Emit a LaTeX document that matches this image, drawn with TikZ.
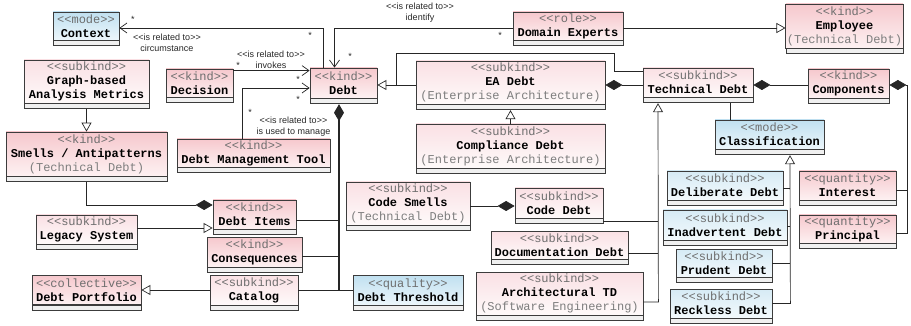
\documentclass[tikz,border=0pt]{standalone}
\usepackage{fontspec}
\setmainfont{Liberation Sans}
\newfontfamily\umlmono{Liberation Mono}
\usepackage{tikz}
\usetikzlibrary{arrows.meta, calc, positioning}

\definecolor{kindtop}{RGB}{246,200,205}
\definecolor{kindbot}{RGB}{253,241,242}
\definecolor{subtop}{RGB}{250,224,228}
\definecolor{subbot}{RGB}{254,250,250}
\definecolor{modetop}{RGB}{192,224,240}
\definecolor{modebot}{RGB}{236,246,251}
\definecolor{ltbtop}{RGB}{214,235,245}
\definecolor{ltbbot}{RGB}{243,249,252}
\definecolor{boxline}{RGB}{60,60,60}
\definecolor{stereo}{RGB}{110,110,110}
\definecolor{extra}{RGB}{125,125,125}
\definecolor{labeltext}{RGB}{40,40,40}

\newcommand{\angled}[1]{<\kern0pt<#1>\kern0pt>}
\newcommand{\stereo}[1]{\textcolor{stereo}{\angled{#1}}}
\newcommand{\aside}[1]{\textcolor{extra}{#1}}

% class = main compartment (name) + empty lower compartment (name-c)
\newcommand{\umlclass}[6]{%
  \node[#2, minimum width=#4pt, minimum height=#5pt] (#1) at (#3) {#6};
  \node[compart, minimum width=#4pt, anchor=north] (#1-c) at (#1.south) {};
}

\tikzset{
  classbox/.style={draw=boxline, line width=0.8pt, inner sep=1pt, align=center,
    font=\umlmono\fontsize{12}{14}\selectfont},
  kindbox/.style={classbox, top color=kindtop, bottom color=kindbot},
  subbox/.style={classbox, top color=subtop, bottom color=subbot},
  modebox/.style={classbox, top color=modetop, bottom color=modebot},
  ltbbox/.style={classbox, top color=ltbtop, bottom color=ltbbot},
  compart/.style={draw=boxline, line width=0.8pt, fill=black!6, minimum height=5pt, inner sep=0pt},
  link/.style={draw=black!85, line width=0.7pt},
  nav/.style={link, -{Straight Barb[length=7pt, width=10pt]}},
  gen/.style={link, -{Triangle[open, length=9pt, width=10pt]}},
  whole/.style={link, {Diamond[length=17pt, width=10pt]}-},
  mult/.style={font=\fontsize{9}{10}\selectfont, text=labeltext, inner sep=0pt},
  rel/.style={font=\fontsize{9}{11}\selectfont, text=labeltext, align=center, inner sep=0pt}
}

\begin{document}
\begin{tikzpicture}[x=1pt, y=-1pt]
    \useasboundingbox (0,0) rectangle (911,326);

    % =================================================================
    % 1. CLASSES
    % =================================================================
    % left column
    \umlclass{context}{modebox}{86,26}{66}{28}{\stereo{mode}\\\textbf{Context}}
    \umlclass{graph}{subbox}{86.5,81.5}{125}{43}{\stereo{subkind}\\\textbf{Graph-based}\\\textbf{Analysis Metrics}}
    \umlclass{smells}{kindbox}{86.5,154}{161}{44}{\stereo{kind}\\\textbf{Smells / Antipatterns}\\\aside{(Technical Debt)}}
    \umlclass{legacy}{subbox}{86.5,229.5}{101}{29}{\stereo{subkind}\\\textbf{Legacy System}}
    \umlclass{portfolio}{kindbox}{86.5,290}{109}{29}{\stereo{collective}\\\textbf{Debt Portfolio}}

    % debt and its parts
    \umlclass{decision}{kindbox}{199.5,83}{67}{28}{\stereo{kind}\\\textbf{Decision}}
    \umlclass{debt}{kindbox}{343.5,83}{67}{30}{\stereo{kind}\\\textbf{Debt}}
    \umlclass{dmt}{kindbox}{253.5,153}{153}{28}{\stereo{kind}\\\textbf{Debt Management Tool}}
    \umlclass{items}{kindbox}{254.5,214.5}{83}{29}{\stereo{kind}\\\textbf{Debt Items}}
    \umlclass{conseq}{kindbox}{254.5,252}{95}{30}{\stereo{kind}\\\textbf{Consequences}}
    \umlclass{catalog}{subbox}{254,290}{88}{30}{\stereo{subkind}\\\textbf{Catalog}}
    \umlclass{threshold}{modebox}{408,290}{110}{30}{\stereo{quality}\\\textbf{Debt Threshold}}

    % centre
    \umlclass{experts}{kindbox}{568,26}{110}{28}{\stereo{role}\\\textbf{Domain Experts}}
    \umlclass{ea}{subbox}{510.5,82.5}{189}{43}{\stereo{subkind}\\\textbf{EA Debt}\\\aside{(Enterprise Architecture)}}
    \umlclass{compliance}{subbox}{510.5,146}{189}{44}{\stereo{subkind}\\\textbf{Compliance Debt}\\\aside{(Enterprise Architecture)}}
    \umlclass{codesmells}{subbox}{408,203.5}{124}{43}{\stereo{subkind}\\\textbf{Code Smells}\\\aside{(Technical Debt)}}
    \umlclass{codedebt}{subbox}{559,203}{88}{30}{\stereo{subkind}\\\textbf{Code Debt}}
    \umlclass{docdebt}{subbox}{559.5,245}{137}{28}{\stereo{subkind}\\\textbf{Documentation Debt}}
    \umlclass{archtd}{subbox}{559.5,293.5}{167}{43}{\stereo{subkind}\\\textbf{Architectural TD}\\\aside{(Software Engineering)}}

    % right column
    \umlclass{employee}{kindbox}{844.5,26}{117}{44}{\stereo{kind}\\\textbf{Employee}\\\aside{(Technical Debt)}}
    \umlclass{techdebt}{subbox}{698,82.5}{110}{29}{\stereo{subkind}\\\textbf{Technical Debt}}
    \umlclass{components}{kindbox}{848.5,83.5}{81}{29}{\stereo{kind}\\\textbf{Components}}
    \umlclass{classification}{modebox}{769.5,134.5}{109}{29}{\stereo{mode}\\\textbf{Classification}}
    \umlclass{deliberate}{ltbbox}{725,185.5}{116}{29}{\stereo{subkind}\\\textbf{Deliberate Debt}}
    \umlclass{interest}{kindbox}{847.5,185.5}{97}{29}{\stereo{quantity}\\\textbf{Interest}}
    \umlclass{inadvertent}{ltbbox}{725,225}{124}{30}{\stereo{subkind}\\\textbf{Inadvertent Debt}}
    \umlclass{principal}{kindbox}{847.5,229}{97}{28}{\stereo{quantity}\\\textbf{Principal}}
    \umlclass{prudent}{ltbbox}{724,263}{96}{28}{\stereo{subkind}\\\textbf{Prudent Debt}}
    \umlclass{reckless}{ltbbox}{721,303.5}{102}{29}{\stereo{subkind}\\\textbf{Reckless Debt}}

    % =================================================================
    % 2. ASSOCIATIONS TO DEBT
    % =================================================================
    \draw[nav] ($(debt.north)+(-20.5,0)$) |- ($(context.east)+(0,2)$);
    \draw[nav] ($(experts.west)+(0,2)$) -| ($(debt.north)+(-9,0)$);
    \draw[nav] ($(decision.north east)+(0,2)$) -- ($(debt.north west)+(0,3)$);
    \draw[nav] ($(dmt.north west)+(66,0)$) |- ($(debt.west)+(0,5)$);

    \node[rel] (r-ctx) at (167,42.5) {\angled{is related to}\\circumstance};
    \node[rel] (r-exp) at (420,13) {\angled{is related to}\\identify};
    \node[rel] (r-dec) at (271,59.5) {\angled{is related to}\\invokes};
    \node[rel] (r-dmt) at (293.5,127) {\angled{is related to}\\is used to manage};

    \node[mult] (m-ctx-a) at (133,19) {*};
    \node[mult] (m-ctx-b) at (310,35) {*};
    \node[mult] (m-exp-a) at (500,35) {*};
    \node[mult] (m-exp-b) at (350,56) {*};
    \node[mult] (m-dec-a) at (238,65) {*};
    \node[mult] (m-dec-b) at (298,79) {*};
    \node[mult] (m-dmt-a) at (250,112) {*};
    \node[mult] (m-dmt-b) at (298,99) {*};

    % =================================================================
    % 3. COMPOSITIONS
    % =================================================================
    \coordinate (debt-foot) at ($(debt-c.south)+(-4.5,0)$);
    \draw[whole, line width=1.3pt] (debt-foot) -- (debt-foot |- catalog.east);
    \draw[link] (items.east) ++(0,5.5) coordinate (items-out) -- (items-out -| debt-foot);
    \draw[link] (conseq.east) ++(0,4) coordinate (conseq-out) -- (conseq-out -| debt-foot);
    \draw[link] (catalog.east) -- (threshold.west);

    \draw[whole] ($(items.west)+(0,-9.5)$) -| (smells-c.south);
    \draw[whole] ($(ea.east)+(0,2.5)$) -- ($(techdebt.west)+(0,2.5)$);
    \draw[whole] ($(techdebt.east)+(0,2.5)$) -- ($(components.west)+(0,1.5)$);
    \draw[whole] ($(components.east)+(0,1.5)$) -| ($(principal.east)+(11,4)$) -- ($(principal.east)+(0,4)$);
    \draw[link] ($(interest.east)+(0,4.5)$) -- ++(11,0);
    \draw[whole] ($(codedebt.west)+(0,3)$) -- ($(codesmells.east)+(0,2.5)$);

    % =================================================================
    % 4. GENERALISATIONS
    % =================================================================
    \draw[gen] (graph-c.south) -- (smells.north);
    \draw[gen] ($(legacy.east)+(0,-1.5)$) -- ($(items.west)+(0,13.5)$);
    \draw[gen] (catalog.west) -- (portfolio.east);
    \draw[gen] ($(ea.west)+(0,2.5)$) -- ($(debt.east)+(0,2)$);
    \draw[link] ($(techdebt.west)+(0,-11.5)$) -- ++(-28,0) |- ($(debt.east)+(19,-30)$) -- ($(debt.east)+(19,2)$);
    \draw[gen] (compliance.north) -- (ea-c.south);
    \draw[gen] ($(experts.east)+(0,2)$) -- ($(employee.west)+(0,2)$);

    % technical debt subtypes
    \draw[gen] ($(archtd.east)+(0,8.5)$) -- ++(15,0) -- ($(techdebt-c.south)+(-40,0)$);
    \draw[link] (codedebt-c.east) -- ++(55,0);
    \draw[link] ($(docdebt.east)+(0,8)$) -- ++(30,0);

    % classification
    \draw[link] ($(techdebt-c.south)+(32,0)$) -- ($(classification.north)+(-39.5,0)$);
    \draw[gen] (reckless.east) -- ++(18,0) -- ($(classification-c.south)+(20.5,0)$);
    \draw[link] ($(deliberate.east)+(0,2.5)$) -- ++(7,0);
    \draw[link] ($(inadvertent.east)+(0,1)$) -- ++(3,0);
    \draw[link] (prudent.east) -- ++(18,0);

\end{tikzpicture}
\end{document}
